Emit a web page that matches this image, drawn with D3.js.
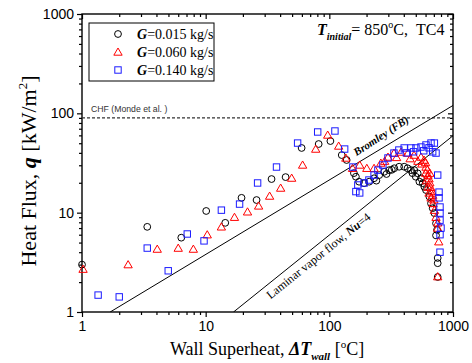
<!DOCTYPE html>
<html>
<head>
<meta charset="utf-8">
<script src="https://cdn.jsdelivr.net/npm/d3@7/dist/d3.min.js"></script>
<style>
  body { margin: 0; background: #fff; }
  text { font-family: 'Liberation Serif', 'Times New Roman', serif; }
  .tick text { font-family: 'Liberation Sans', Arial, sans-serif; font-size: 14px; }
</style>
</head>
<body>
<svg id="chart" width="472" height="363"></svg>
<script>
// wall superheat [C], heat flux [kW/m2]
const g015 = [
  [1.0, 3.0], [3.37, 7.2], [6.35, 5.6], [10.1, 10.4], [14.4, 7.9], [19.5, 14.1], [25.8, 13.4],
  [34.1, 21.8], [44.3, 22.8], [59.7, 44.8], [82, 49.1], [102, 52.6], [126, 38], [138, 33.9],
  [158, 25], [164, 23], [174, 20.5], [191, 19.8], [210, 20.5], [230, 22.2], [253, 23.9],
  [278, 25.8], [305, 26.8], [335, 28], [367, 29], [403, 29], [429, 28], [457, 26.8], [486, 26.8],
  [518, 24.9], [551, 22.2], [535, 20.5], [569, 19.8], [587, 18.2], [605, 16.9], [644, 14.5],
  [664, 12.4], [685, 11.1], [707, 9.9], [729, 7.8], [743, 6.7], [729, 5.9], [752, 3.5],
  [752, 3.1], [752, 2.25], [240, 21], [290, 24.5], [320, 27], [470, 25], [500, 23]
];
const g060 = [
  [1.02, 2.7], [2.36, 3.0], [4.06, 4.3], [6.0, 4.4], [7.95, 4.3], [10.3, 6.0], [13.4, 7.2],
  [17.1, 9.0], [21.8, 10.2], [26.8, 11.7], [32.9, 14.7], [40.4, 17.7], [49.6, 22.3], [60.8, 30.2],
  [77.6, 43.7], [97, 60.5], [119, 46.9], [136, 35.5], [154, 28], [176, 30.2], [201, 28], [230, 28],
  [261, 31.6], [298, 36.3], [333, 39.8], [380, 40.8], [432, 39.8], [484, 38], [551, 36.3],
  [583, 33.9], [605, 28.8], [628, 23.9], [628, 18.1], [640, 15.8], [664, 14.1], [690, 12.4],
  [707, 10.6], [729, 9.0], [752, 7.9], [752, 7.0], [767, 5.1], [752, 2.27],
  [560, 31], [600, 32], [620, 27], [640, 22], [650, 20], [660, 18], [675, 16.5], [685, 15],
  [650, 25], [600, 25], [610, 21], [700, 13.5], [450, 35], [520, 33], [350, 36], [280, 33]
];
const g140 = [
  [1.35, 1.48], [2.0, 1.42], [3.37, 4.4], [4.98, 2.6], [7.1, 6.1], [9.7, 5.2], [13.4, 10.6],
  [18.8, 12.2], [26.3, 19.9], [37.4, 28.8], [55.4, 50.2], [80.5, 64.9], [111, 66.4], [133, 43.7],
  [155, 28.8], [164, 16.3], [176, 15.8], [170, 19], [191, 19.9], [209, 21.3], [230, 23.9],
  [247, 26.8], [271, 30.2], [298, 35.5], [333, 39.8], [365, 42.7], [403, 44.8], [457, 44.8],
  [502, 44.8], [551, 45.8], [605, 48], [664, 50.2], [707, 50.2], [729, 39.8], [752, 23.9],
  [771, 16.1], [771, 14.1], [785, 11.4], [785, 9.9], [785, 8.4], [800, 7.0], [785, 6.0], [785, 4.0],
  [420, 40], [480, 41], [580, 42], [640, 45], [685, 41]
];

const chf = 90;
const bromley = [[1.69, 1], [1000, 120]];
const laminar = [[16.8, 1], [1000, 59.5]];

const xTicks = [1, 10, 100, 1000];
const yTicks = [1, 10, 100, 1000];
const legendLabels = ['=0.015 kg/s', '=0.060 kg/s', '=0.140 kg/s'];

const width = 472, height = 363;
const margin = { top: 14, right: 19, bottom: 51, left: 82 };
const iw = width - margin.left - margin.right;
const ih = height - margin.top - margin.bottom;

const x = d3.scaleLog().domain([1, 1000]).range([0, iw]);
const y = d3.scaleLog().domain([1, 1000]).range([ih, 0]);

const minors = [];
for (let d = 1; d < 1000; d *= 10) for (let k = 2; k <= 9; k++) minors.push(d * k);

const svg = d3.select('#chart');
const g = svg.append('g').attr('transform', `translate(${margin.left},${margin.top})`);

g.append('clipPath').attr('id', 'clip')
  .append('rect').attr('width', iw).attr('height', ih);

// axes: left/bottom outward, top/right inward
function styleAxis(sel) {
  sel.select('.domain').remove();
  sel.selectAll('.tick line').attr('stroke', '#000').attr('stroke-width', 1.2);
  sel.selectAll('.tick text').attr('fill', '#000');
}

g.append('g').attr('transform', `translate(0,${ih})`)
  .call(d3.axisBottom(x).tickValues(xTicks).tickFormat(d3.format('d')).tickSize(5).tickPadding(4))
  .call(styleAxis);
g.append('g').attr('transform', `translate(0,${ih})`)
  .call(d3.axisBottom(x).tickValues(minors).tickFormat('').tickSize(3))
  .call(styleAxis);
g.append('g')
  .call(d3.axisLeft(y).tickValues(yTicks).tickFormat(d3.format('d')).tickSize(5).tickPadding(3))
  .call(styleAxis);
g.append('g')
  .call(d3.axisLeft(y).tickValues(minors).tickFormat('').tickSize(3))
  .call(styleAxis);
g.append('g')
  .call(d3.axisTop(x).tickValues(xTicks).tickFormat('').tickSize(-5))
  .call(styleAxis);
g.append('g')
  .call(d3.axisTop(x).tickValues(minors).tickFormat('').tickSize(-3))
  .call(styleAxis);
g.append('g').attr('transform', `translate(${iw},0)`)
  .call(d3.axisRight(y).tickValues(yTicks).tickFormat('').tickSize(-5))
  .call(styleAxis);
g.append('g').attr('transform', `translate(${iw},0)`)
  .call(d3.axisRight(y).tickValues(minors).tickFormat('').tickSize(-3))
  .call(styleAxis);

g.append('rect')
  .attr('width', iw).attr('height', ih)
  .attr('fill', 'none').attr('stroke', '#000').attr('stroke-width', 1.4);

// CHF line
g.append('line')
  .attr('x1', 0).attr('x2', iw).attr('y1', y(chf)).attr('y2', y(chf))
  .attr('stroke', '#333').attr('stroke-width', 1.1).attr('stroke-dasharray', '3,2');
g.append('text')
  .attr('x', 9).attr('y', y(chf) - 6)
  .style('font-family', "'Liberation Sans', Arial, sans-serif")
  .style('font-size', '8.7px').attr('fill', '#333')
  .text('CHF (Monde et al. )');

// correlation lines
const line = d3.line().x(d => x(d[0])).y(d => y(d[1]));
[bromley, laminar].forEach(pts => {
  g.append('path').datum(pts)
    .attr('d', line).attr('clip-path', 'url(#clip)')
    .attr('fill', 'none').attr('stroke', '#000').attr('stroke-width', 1);
});

const angle = pts => Math.atan2(y(pts[1][1]) - y(pts[0][1]), x(pts[1][0]) - x(pts[0][0])) * 180 / Math.PI;

g.append('text')
  .attr('transform', `translate(${383 - margin.left},${139 - margin.top}) rotate(${angle(bromley) - 2})`)
  .attr('text-anchor', 'middle')
  .style('font-size', '11px').style('font-weight', 'bold').style('font-style', 'italic')
  .text('Bromley (FB)');

const lam = g.append('text')
  .attr('transform', `translate(${321 - margin.left},${259 - margin.top}) rotate(${angle(laminar)})`)
  .attr('text-anchor', 'middle')
  .style('font-size', '12px');
lam.append('tspan').text('Laminar vapor flow, ');
lam.append('tspan').style('font-weight', 'bold').style('font-style', 'italic').text('Nu');
lam.append('tspan').text('=4');

// markers
const tri = d3.symbol().type(d3.symbolTriangle).size(30);
const series = [
  { data: g015, color: '#000', shape: 'circle' },
  { data: g060, color: '#ff0000', shape: 'triangle' },
  { data: g140, color: '#1a1aff', shape: 'square' }
];

function drawMarker(sel, shape, color) {
  if (shape === 'circle') {
    sel.append('circle').attr('r', 3.4);
  } else if (shape === 'triangle') {
    sel.append('path').attr('d', tri).attr('transform', 'translate(0,0.8)');
  } else {
    sel.append('rect').attr('x', -3.2).attr('y', -3.2).attr('width', 6.4).attr('height', 6.4);
  }
  sel.selectAll('*').attr('fill', 'none').attr('stroke', color).attr('stroke-width', 1);
}

series.forEach(s => {
  g.append('g').selectAll('g')
    .data(s.data)
    .enter().append('g')
    .attr('transform', d => `translate(${x(d[0])},${y(d[1])})`)
    .each(function () { drawMarker(d3.select(this), s.shape, s.color); });
});

// legend
const legend = svg.append('g');
legend.append('rect')
  .attr('x', 89).attr('y', 23).attr('width', 125).attr('height', 58)
  .attr('fill', '#fff').attr('stroke', '#000').attr('stroke-width', 1);
series.forEach((s, i) => {
  const row = legend.append('g').attr('transform', `translate(118,${34 + i * 18})`);
  drawMarker(row, s.shape, s.color);
  const t = row.append('text').attr('x', 19).attr('y', 5).style('font-size', '14px');
  t.append('tspan').style('font-weight', 'bold').style('font-style', 'italic').text('G');
  t.append('tspan').text(legendLabels[i]);
});

// annotation
const ann = svg.append('text').attr('x', 317).attr('y', 35)
  .style('font-size', '16px').style('white-space', 'pre');
ann.append('tspan').style('font-weight', 'bold').style('font-style', 'italic').text('T');
ann.append('tspan').attr('dy', 5).style('font-size', '10px').style('font-weight', 'bold').style('font-style', 'italic').text('initial');
ann.append('tspan').attr('dy', -5).text('= 850');
ann.append('tspan').attr('dy', -7).style('font-size', '10px').text('o');
ann.append('tspan').attr('dy', 7).text('C,\u00a0\u00a0TC4');

// axis titles
const xt = svg.append('text')
  .attr('x', 267).attr('y', 355).attr('text-anchor', 'middle')
  .style('font-size', '18px');
xt.append('tspan').text('Wall Superheat, ');
xt.append('tspan').style('font-weight', 'bold').style('font-style', 'italic').text('ΔT');
xt.append('tspan').attr('dy', 5).style('font-size', '11px').style('font-weight', 'bold').style('font-style', 'italic').text('wall');
xt.append('tspan').attr('dy', -5).text(' [');
xt.append('tspan').attr('dy', -7).style('font-size', '11px').text('o');
xt.append('tspan').attr('dy', 7).text('C]');

const yt = svg.append('text')
  .attr('transform', 'translate(36,171) rotate(-90)')
  .attr('text-anchor', 'middle')
  .style('font-size', '22px');
yt.append('tspan').text('Heat Flux, ');
yt.append('tspan').style('font-weight', 'bold').style('font-style', 'italic').text('q');
yt.append('tspan').text(' [kW/m');
yt.append('tspan').attr('dy', -9).style('font-size', '13px').text('2');
yt.append('tspan').attr('dy', 9).text(']');
</script>
</body>
</html>
